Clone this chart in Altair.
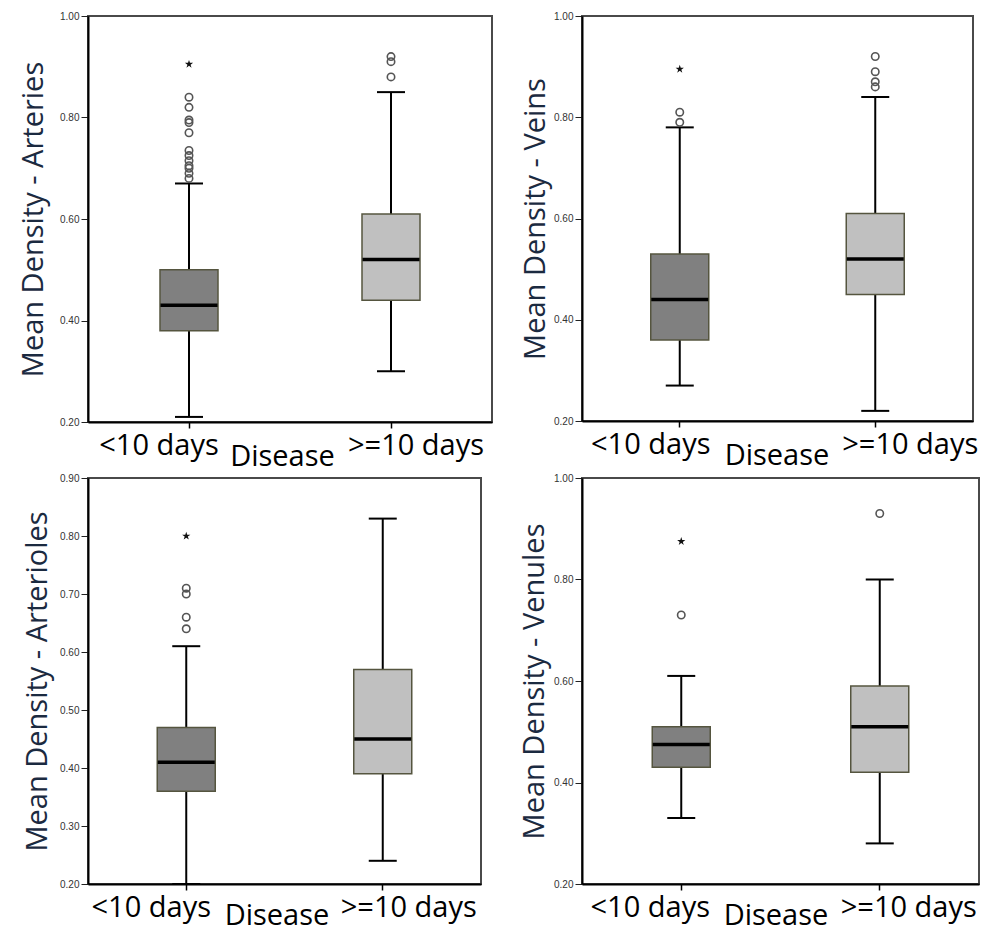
import altair as alt
import pandas as pd

groups = ["<10 days", ">=10 days"]
box_fill = ["#808080", "#c0c0c0"]

# Panel 1: Arteries
art_title = "Mean Density - Arteries"
art_low = [0.21, 0.30]
art_q1 = [0.38, 0.44]
art_med = [0.43, 0.52]
art_q3 = [0.50, 0.61]
art_high = [0.67, 0.85]
art_out_g1 = [0.84, 0.82, 0.795, 0.79, 0.77, 0.735, 0.725, 0.715, 0.705, 0.70, 0.69, 0.68]
art_out_g2 = [0.92, 0.91, 0.88]
art_ext_g1 = [0.905]
art_ext_g2 = []

# Panel 2: Veins
vein_title = "Mean Density - Veins"
vein_low = [0.27, 0.22]
vein_q1 = [0.36, 0.45]
vein_med = [0.44, 0.52]
vein_q3 = [0.53, 0.61]
vein_high = [0.78, 0.84]
vein_out_g1 = [0.81, 0.79]
vein_out_g2 = [0.92, 0.89, 0.87, 0.86]
vein_ext_g1 = [0.895]
vein_ext_g2 = []

# Panel 3: Arterioles
arl_title = "Mean Density - Arterioles"
arl_low = [0.20, 0.24]
arl_q1 = [0.36, 0.39]
arl_med = [0.41, 0.45]
arl_q3 = [0.47, 0.57]
arl_high = [0.61, 0.83]
arl_out_g1 = [0.71, 0.70, 0.66, 0.64]
arl_out_g2 = []
arl_ext_g1 = [0.80]
arl_ext_g2 = []

# Panel 4: Venules
ven_title = "Mean Density - Venules"
ven_low = [0.33, 0.28]
ven_q1 = [0.43, 0.42]
ven_med = [0.475, 0.51]
ven_q3 = [0.51, 0.59]
ven_high = [0.61, 0.80]
ven_out_g1 = [0.73]
ven_out_g2 = [0.93]
ven_ext_g1 = [0.875]
ven_ext_g2 = []

ticks_a = [0.2, 0.4, 0.6, 0.8, 1.0]
ticks_b = [0.2, 0.3, 0.4, 0.5, 0.6, 0.7, 0.8, 0.9]

STAR = "M0,-1L0.2245,-0.309L0.951,-0.309L0.363,0.118L0.588,0.809L0,0.382L-0.588,0.809L-0.363,0.118L-0.951,-0.309L-0.2245,-0.309Z"
FONT = "Open Sans"


def panel(title, low, q1, med, q3, high, out1, out2, ext1, ext2,
          domain, ticks, width, height, tpad, off1, off2, dis_dx, dis_y):
    box = pd.DataFrame({"g": groups, "low": low, "q1": q1, "med": med,
                        "q3": q3, "high": high})
    outs = pd.DataFrame({"g": [groups[0]] * len(out1) + [groups[1]] * len(out2),
                         "v": out1 + out2})
    exts = pd.DataFrame({"g": [groups[0]] * len(ext1) + [groups[1]] * len(ext2),
                         "v": ext1 + ext2})

    xenc = alt.X("g:N", sort=groups,
                 scale=alt.Scale(paddingInner=0, paddingOuter=0),
                 axis=alt.Axis(title="Disease", labelAngle=0, labelFontSize=29,
                               labelFont=FONT, labelColor="black",
                               labelBaseline="alphabetic",
                               labelOffset={"condition": {"test": "datum.value === '<10 days'", "value": off1}, "value": off2},
                               labelPadding=26, tickSize=6, tickColor="black",
                               tickWidth=1.5, domainColor="black", domainWidth=2,
                               titleFontSize=29, titleFont=FONT,
                               titleFontWeight="normal", titleColor="black",
                               titleBaseline="alphabetic", titleY=dis_y,
                               titleX=width / 2 + dis_dx, titleAlign="center"))
    yscale = alt.Scale(domain=domain, nice=False, zero=False)
    yaxis = alt.Axis(title=title, values=ticks, format=".2f", labelFontSize=10,
                     labelFont="Liberation Sans", labelColor="#333333",
                     tickSize=7, tickColor="#222222", domainColor="black",
                     domainWidth=2, grid=False, titleFontSize=29,
                     titleFont=FONT, titleFontWeight="normal",
                     titleColor="#1b2a40", titlePadding=tpad)

    base = alt.Chart(box).encode(x=xenc)
    whisk = base.mark_rule(color="black", strokeWidth=2, opacity=1).encode(
        y=alt.Y("low:Q", scale=yscale, axis=yaxis), y2="high:Q")
    cap_lo = base.mark_tick(color="black", size=28, thickness=2, opacity=1).encode(y="low:Q")
    cap_hi = base.mark_tick(color="black", size=28, thickness=2, opacity=1).encode(y="high:Q")
    bars = base.mark_bar(size=58, stroke="#55553f", strokeWidth=1.5, opacity=1).encode(
        y="q1:Q", y2="q3:Q",
        fill=alt.Fill("g:N", scale=alt.Scale(domain=groups, range=box_fill),
                      legend=None))
    medl = base.mark_tick(color="black", size=57, thickness=3.5, opacity=1).encode(y="med:Q")
    circ = alt.Chart(outs).mark_point(shape="circle", filled=False, size=55,
                                      color="#555555", strokeWidth=1.6,
                                      opacity=1).encode(
        x=alt.X("g:N", sort=groups), y="v:Q")
    star = alt.Chart(exts).mark_point(shape=STAR, filled=True, size=75,
                                      color="#111111", opacity=1).encode(
        x=alt.X("g:N", sort=groups), y="v:Q")
    return alt.layer(whisk, cap_lo, cap_hi, bars, medl, circ, star).properties(
        width=width, height=height,
        view=alt.ViewBackground(stroke="#4a4a4a", strokeWidth=2))


p1 = panel(art_title, art_low, art_q1, art_med, art_q3, art_high,
           art_out_g1, art_out_g2, art_ext_g1, art_ext_g2,
           [0.2, 1.0], ticks_a, 404, 406, 11, -30, 25, -8, 43)
p2 = panel(vein_title, vein_low, vein_q1, vein_med, vein_q3, vein_high,
           vein_out_g1, vein_out_g2, vein_ext_g1, vein_ext_g2,
           [0.2, 1.0], ticks_a, 391, 405, 3, -29, 35, -1, 43)
p3 = panel(arl_title, arl_low, arl_q1, arl_med, arl_q3, arl_high,
           arl_out_g1, arl_out_g2, arl_ext_g1, arl_ext_g2,
           [0.2, 0.9], ticks_b, 393, 406, 7, -35, 26, -8, 40)
p4 = panel(ven_title, ven_low, ven_q1, ven_med, ven_q3, ven_high,
           ven_out_g1, ven_out_g2, ven_ext_g1, ven_ext_g2,
           [0.2, 1.0], ticks_a, 397, 406, 4, -31, 29, -5, 40)

chart = alt.concat(p1, p2, p3, p4, columns=2, bounds="flush",
                   spacing={"row": 56, "column": 90}).properties(
    padding={"left": 10, "top": 2, "right": 0, "bottom": 0}
).configure_view(stroke="#4a4a4a", strokeWidth=2).configure(background="white")

chart.save("out.html", embed_options={"renderer": "svg", "actions": False})
